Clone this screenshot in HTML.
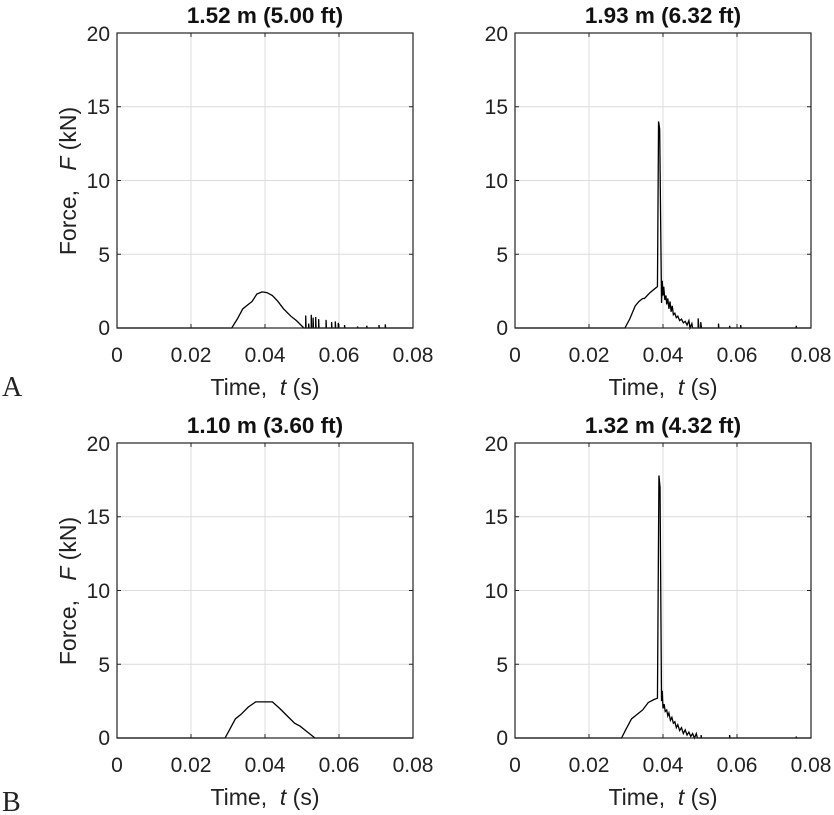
<!DOCTYPE html>
<html><head><meta charset="utf-8"><style>body{margin:0;background:#fff}svg{display:block}</style></head>
<body>
<svg width="834" height="815" xmlns="http://www.w3.org/2000/svg" font-family="Liberation Sans, sans-serif">
<defs>
<g id="grid">
<rect x="0" y="0" width="296" height="295" fill="#fff"/>
<g stroke="#dcdcdc" stroke-width="1">
<line x1="74" y1="0" x2="74" y2="295"/><line x1="148" y1="0" x2="148" y2="295"/><line x1="222" y1="0" x2="222" y2="295"/>
<line x1="0" y1="73.75" x2="296" y2="73.75"/><line x1="0" y1="147.5" x2="296" y2="147.5"/><line x1="0" y1="221.25" x2="296" y2="221.25"/>
</g>
<g stroke="#222" stroke-width="1">
<line x1="74" y1="295" x2="74" y2="291"/><line x1="148" y1="295" x2="148" y2="291"/><line x1="222" y1="295" x2="222" y2="291"/>
<line x1="74" y1="0" x2="74" y2="4"/><line x1="148" y1="0" x2="148" y2="4"/><line x1="222" y1="0" x2="222" y2="4"/>
<line x1="0" y1="73.75" x2="4" y2="73.75"/><line x1="0" y1="147.5" x2="4" y2="147.5"/><line x1="0" y1="221.25" x2="4" y2="221.25"/>
<line x1="296" y1="73.75" x2="292" y2="73.75"/><line x1="296" y1="147.5" x2="292" y2="147.5"/><line x1="296" y1="221.25" x2="292" y2="221.25"/>
</g>
<g font-size="21" fill="#222" text-anchor="end">
<text x="-7" y="8">20</text><text x="-7" y="81">15</text><text x="-7" y="155">10</text><text x="-7" y="229">5</text><text x="-7" y="302">0</text>
</g>
<g font-size="21" fill="#222" text-anchor="middle">
<text x="0" y="329">0</text><text x="74" y="329">0.02</text><text x="148" y="329">0.04</text><text x="222" y="329">0.06</text><text x="296" y="329">0.08</text>
<text x="148" y="362" font-size="23">Time,&#160;&#160;<tspan font-style="italic">t</tspan>&#160;(s)</text>
</g>
</g>
</defs>

<!-- TL -->
<g transform="translate(117,33)">
<use href="#grid"/>
<text x="148" y="-10" font-size="22.5" font-weight="bold" text-anchor="middle" fill="#111">1.52 m (5.00 ft)</text>
<text transform="translate(-41,148) rotate(-90)" font-size="23" text-anchor="middle" fill="#222">Force,&#160;&#160;&#160;<tspan font-style="italic">F</tspan>&#160;(kN)</text>
<g transform="translate(0,295) scale(3700,-14.75)" fill="none" stroke="#000">
<polyline vector-effect="non-scaling-stroke" stroke-width="1.3" points="0,0 0.031,0 0.0325,0.6 0.034,1.3 0.0355,1.6 0.0365,1.8 0.0378,2.3 0.0392,2.45 0.0405,2.4 0.042,2.2 0.0435,1.8 0.045,1.3 0.047,0.8 0.0485,0.5 0.0505,0 0.051,0 0.051,0.85 0.0511,0 0.0518,0 0.0518,0.3 0.0519,0 0.0525,0 0.0525,0.9 0.0526,0 0.053,0 0.053,0.7 0.0531,0 0.0537,0 0.0537,0.75 0.0538,0 0.0545,0 0.0545,0.6 0.0546,0 0.0565,0 0.0565,0.55 0.0566,0 0.058,0 0.058,0.4 0.0581,0 0.059,0 0.059,0.45 0.0591,0 0.0598,0 0.0598,0.35 0.0599,0 0.0615,0 0.0615,0.2 0.0616,0 0.065,0 0.065,0.1 0.0651,0 0.0675,0 0.0675,0.15 0.0676,0 0.0708,0 0.0708,0.2 0.0709,0 0.0725,0 0.0725,0.25 0.0726,0 0.08,0"/>
</g>
<rect x="0" y="0" width="296" height="295" fill="none" stroke="#222" stroke-width="1.2"/>
</g>

<!-- TR -->
<g transform="translate(515,33)">
<use href="#grid"/>
<text x="148" y="-10" font-size="22.5" font-weight="bold" text-anchor="middle" fill="#111">1.93 m (6.32 ft)</text>
<g transform="translate(0,295) scale(3700,-14.75)" fill="none" stroke="#000">
<polyline vector-effect="non-scaling-stroke" stroke-width="1.3" points="0,0 0.0297,0 0.031,0.6 0.0325,1.5 0.0335,1.8 0.0345,2.0 0.035,2.0 0.0365,2.4 0.0382,2.75 0.0385,2.8 0.0388,14 0.0391,13.5 0.0396,1.7 0.0398,3.2 0.04,2.2 0.0402,2.8 0.0405,1.9 0.0408,2.2 0.041,1.6 0.0413,2.0 0.0416,1.3 0.0419,1.8 0.0422,1.1 0.0425,1.5 0.0428,0.9 0.0432,1.0 0.0436,0.7 0.044,0.8 0.0445,0.5 0.045,0.6 0.0455,0.35 0.046,0.45 0.0465,0.2 0.047,0.5 0.0473,0 0.0478,0.3 0.048,0 0.0495,0 0.0495,0.65 0.0497,0 0.0502,0 0.0502,0.4 0.0504,0 0.055,0 0.055,0.3 0.0551,0 0.058,0 0.058,0.15 0.0581,0 0.061,0 0.061,0.2 0.0611,0 0.076,0 0.076,0.15 0.0761,0 0.08,0"/>
</g>
<rect x="0" y="0" width="296" height="295" fill="none" stroke="#222" stroke-width="1.2"/>
</g>

<!-- BL -->
<g transform="translate(117,443)">
<use href="#grid"/>
<text x="148" y="-10" font-size="22.5" font-weight="bold" text-anchor="middle" fill="#111">1.10 m (3.60 ft)</text>
<text transform="translate(-41,148) rotate(-90)" font-size="23" text-anchor="middle" fill="#222">Force,&#160;&#160;&#160;<tspan font-style="italic">F</tspan>&#160;(kN)</text>
<g transform="translate(0,295) scale(3700,-14.75)" fill="none" stroke="#000">
<polyline vector-effect="non-scaling-stroke" stroke-width="1.3" points="0,0 0.0292,0 0.0305,0.6 0.032,1.3 0.0335,1.6 0.0355,2.1 0.0375,2.45 0.042,2.45 0.044,2.0 0.046,1.5 0.048,1.0 0.0495,0.8 0.0515,0.4 0.0535,0 0.08,0"/>
</g>
<rect x="0" y="0" width="296" height="295" fill="none" stroke="#222" stroke-width="1.2"/>
</g>

<!-- BR -->
<g transform="translate(515,443)">
<use href="#grid"/>
<text x="148" y="-10" font-size="22.5" font-weight="bold" text-anchor="middle" fill="#111">1.32 m (4.32 ft)</text>
<g transform="translate(0,295) scale(3700,-14.75)" fill="none" stroke="#000">
<polyline vector-effect="non-scaling-stroke" stroke-width="1.3" points="0,0 0.0288,0 0.030,0.6 0.0315,1.3 0.033,1.6 0.0345,1.9 0.036,2.4 0.0375,2.6 0.0385,2.7 0.0389,17.8 0.0392,17 0.0396,2.5 0.0398,3.2 0.04,2.0 0.0403,2.3 0.0406,1.8 0.041,1.9 0.0413,1.5 0.0416,1.7 0.042,1.2 0.0424,1.4 0.0428,1.0 0.0432,1.1 0.0436,0.7 0.044,0.9 0.0445,0.5 0.045,0.7 0.0455,0.3 0.046,0.55 0.0465,0.2 0.047,0.4 0.0475,0.1 0.048,0.3 0.0485,0 0.049,0.3 0.0493,0 0.0503,0 0.0503,0.2 0.0504,0 0.058,0 0.058,0.2 0.0581,0 0.076,0 0.076,0.1 0.0761,0 0.08,0"/>
</g>
<rect x="0" y="0" width="296" height="295" fill="none" stroke="#222" stroke-width="1.2"/>
</g>

<text x="2" y="396" font-family="Liberation Serif, serif" font-size="28" fill="#222">A</text>
<text x="2" y="811" font-family="Liberation Serif, serif" font-size="28" fill="#222">B</text>
</svg>
</body></html>
